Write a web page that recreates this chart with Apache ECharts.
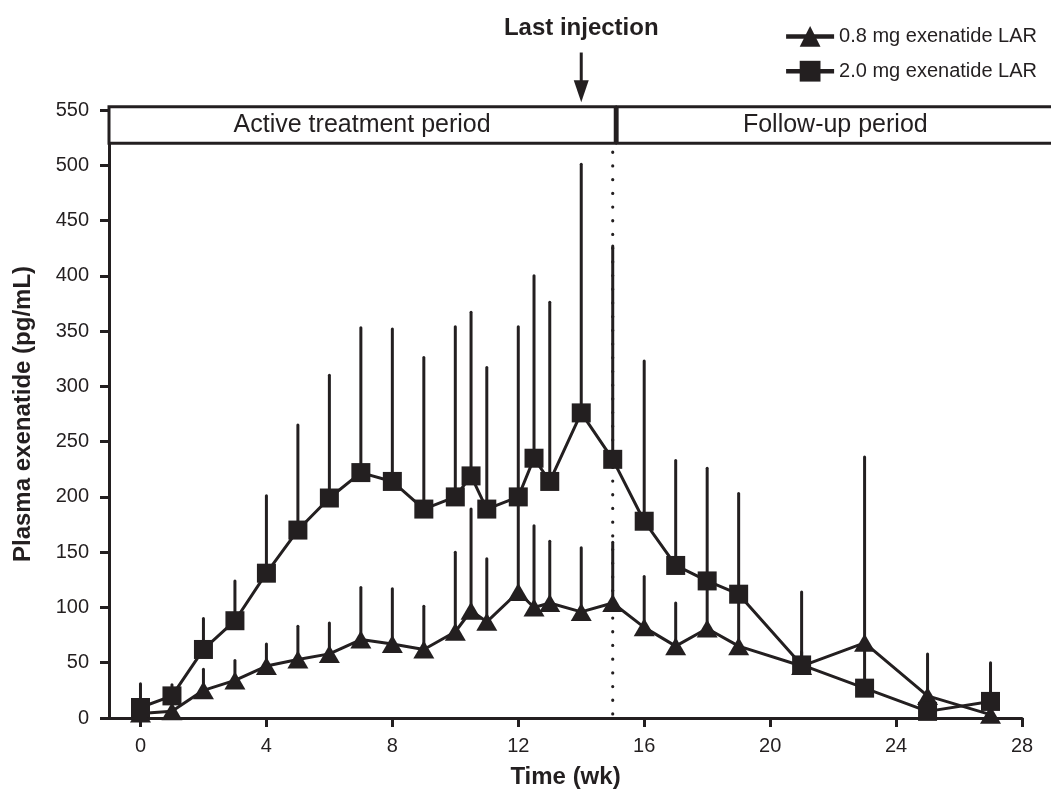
<!DOCTYPE html>
<html>
<head>
<meta charset="utf-8">
<script src="https://cdn.jsdelivr.net/npm/echarts@6/dist/echarts.min.js"></script>
<style>
html,body{margin:0;padding:0;background:#fff;}
#chart{width:1051px;height:798px;}
</style>
</head>
<body>
<div id="chart"></div>
<script>
// ---- data ----
const weeks = [0,1,2,3,4,5,6,7,8,9,10,10.5,11,12,12.5,13,14,15,16,17,18,19,21,23,25,27];
const lowDoseMean = [4,6,25,34,47,53,58,71,67,62,78,97,87,114,100,104,96,104,82,65,81,65,47,68,20,3];
const lowDoseUpper = [4,10,44,52,67,83,86,118,117,101,150,189,144,200,174,160,154,159,128,104,124,112,60,236,58,10];
const highDoseMean = [9.5,20,62,88,131,170,199,222,214,189,200,219,189,200,235,214,276,234,178,138,124,112,48,27,6,15];
const highDoseUpper = [31,30,90,124,201,265,310,353,352,326,354,367,317,354,400,376,501,427,323,233,226,203,114,68,10,50];
const xTicks = [0,4,8,12,16,20,24,28];
const seriesNames = ['0.8 mg exenatide LAR', '2.0 mg exenatide LAR'];
const periods = [
  {name: 'Active treatment period', from: -1, to: 15.08},
  {name: 'Follow-up period', from: 15.14, to: 29}
];
const periodRange = [520, 553];
const lastInjectionWeek = 14;
const arrowRange = [602, 557];
const titleValue = 624;
const dividerWeek = 15;

const INK = '#231f20';
const FONT = '"Liberation Sans", Arial, Helvetica, sans-serif';

function pairs(xs, ys){ return xs.map((x,i)=>[x, ys[i]]); }
function errs(xs, m, u){ return xs.map((x,i)=>[x, m[i], u[i]]); }

function errRender(params, api){
  const p1 = api.coord([api.value(0), api.value(1)]);
  const p2 = api.coord([api.value(0), api.value(2)]);
  return {type:'line', shape:{x1:p1[0], y1:p1[1], x2:p2[0], y2:p2[1]},
          style:{stroke:INK, lineWidth:3, lineCap:'round'}};
}

const chart = echarts.init(document.getElementById('chart'), null, {renderer:'canvas'});
chart.setOption({
  animation:false,
  backgroundColor:'#fff',
  grid:{left:109, right:29, top:110, bottom:80, containLabel:false},
  legend:{
    data:[seriesNames[0], seriesNames[1]],
    orient:'vertical', right:9, top:21, itemWidth:48, itemHeight:26, itemGap:14,
    lineStyle:{width:4.5},
    textStyle:{fontFamily:FONT, fontSize:20, color:INK},
    align:'left'
  },
  xAxis:{
    type:'value', min:-1, max:28,
    name:'Time (wk)', nameLocation:'middle', nameGap:47,
    nameTextStyle:{fontFamily:FONT, fontSize:24, fontWeight:'bold', color:INK},
    axisLine:{onZero:false, lineStyle:{color:INK, width:3}},
    axisTick:{show:true, length:9, lineStyle:{color:INK, width:3}, customValues:xTicks},
    axisLabel:{margin:18, fontFamily:FONT, fontSize:20, color:INK, customValues:xTicks},
    splitLine:{show:false}
  },
  yAxis:{
    type:'value', min:0, max:550, interval:50,
    name:'Plasma exenatide (pg/mL)', nameLocation:'middle', nameGap:74,
    nameTextStyle:{fontFamily:FONT, fontSize:24, fontWeight:'bold', color:INK},
    axisLine:{show:true, onZero:false, lineStyle:{color:INK, width:3}},
    axisTick:{show:true, length:9, lineStyle:{color:INK, width:3}},
    axisLabel:{margin:20, fontFamily:FONT, fontSize:20, color:INK},
    splitLine:{show:false}
  },
  series:[
    {
      type:'custom', name:'periods', z:3, silent:true,
      data: periods.map((p,i)=>[p.from, p.to, i]),
      renderItem:function(params, api){
        const p = periods[api.value(2)];
        const a = api.coord([api.value(0), periodRange[1]]);
        const b = api.coord([api.value(1), periodRange[0]]);
        return {type:'group', children:[
          {type:'rect', shape:{x:a[0], y:a[1], width:b[0]-a[0], height:b[1]-a[1]},
           style:{fill:'#fff', stroke:INK, lineWidth:3}},
          {type:'text', x:(a[0]+b[0])/2, y:(a[1]+b[1])/2,
           style:{text:p.name, fill:INK, font:'25px '+FONT, align:'center', verticalAlign:'middle'}}
        ]};
      }
    },
    {
      type:'custom', name:'divider', z:1, silent:true,
      data:[[dividerWeek, 0, periodRange[0]]],
      renderItem:function(params, api){
        const a = api.coord([api.value(0), api.value(1)]);
        const b = api.coord([api.value(0), api.value(2)]);
        return {type:'line', shape:{x1:a[0], y1:a[1]-4, x2:b[0], y2:b[1]+6},
          style:{stroke:INK, lineWidth:3.2, lineCap:'round', lineDash:[0.1, 13.6]}};
      }
    },
    {
      type:'custom', name:'lastInjection', z:3, silent:true,
      data:[[lastInjectionWeek, arrowRange[0], arrowRange[1], titleValue]],
      renderItem:function(params, api){
        const a = api.coord([api.value(0), api.value(1)]);
        const b = api.coord([api.value(0), api.value(2)]);
        const t = api.coord([api.value(0), api.value(3)]);
        const headH = 22, headW = 15;
        return {type:'group', children:[
          {type:'line', shape:{x1:a[0], y1:a[1], x2:b[0], y2:b[1]-headH+2},
           style:{stroke:INK, lineWidth:3}},
          {type:'polygon', shape:{points:[[b[0]-headW/2, b[1]-headH],[b[0]+headW/2, b[1]-headH],[b[0], b[1]]]},
           style:{fill:INK}},
          {type:'text', x:t[0], y:t[1],
           style:{text:'Last injection', fill:INK, font:'bold 24px '+FONT, align:'center', verticalAlign:'middle'}}
        ]};
      }
    },
    {type:'custom', name:'errLow', z:1, silent:true, data:errs(weeks, lowDoseMean, lowDoseUpper), renderItem:errRender},
    {type:'custom', name:'errHigh', z:1, silent:true, data:errs(weeks, highDoseMean, highDoseUpper), renderItem:errRender},
    {
      type:'line', name:seriesNames[0], z:2, data:pairs(weeks, lowDoseMean),
      symbol:'triangle', symbolSize:[21,18], showSymbol:true,
      lineStyle:{color:INK, width:3}, itemStyle:{color:INK, borderWidth:0}
    },
    {
      type:'line', name:seriesNames[1], z:2, data:pairs(weeks, highDoseMean),
      symbol:'rect', symbolSize:19, showSymbol:true,
      lineStyle:{color:INK, width:3}, itemStyle:{color:INK, borderWidth:0}
    }
  ]
});
</script>
</body>
</html>
